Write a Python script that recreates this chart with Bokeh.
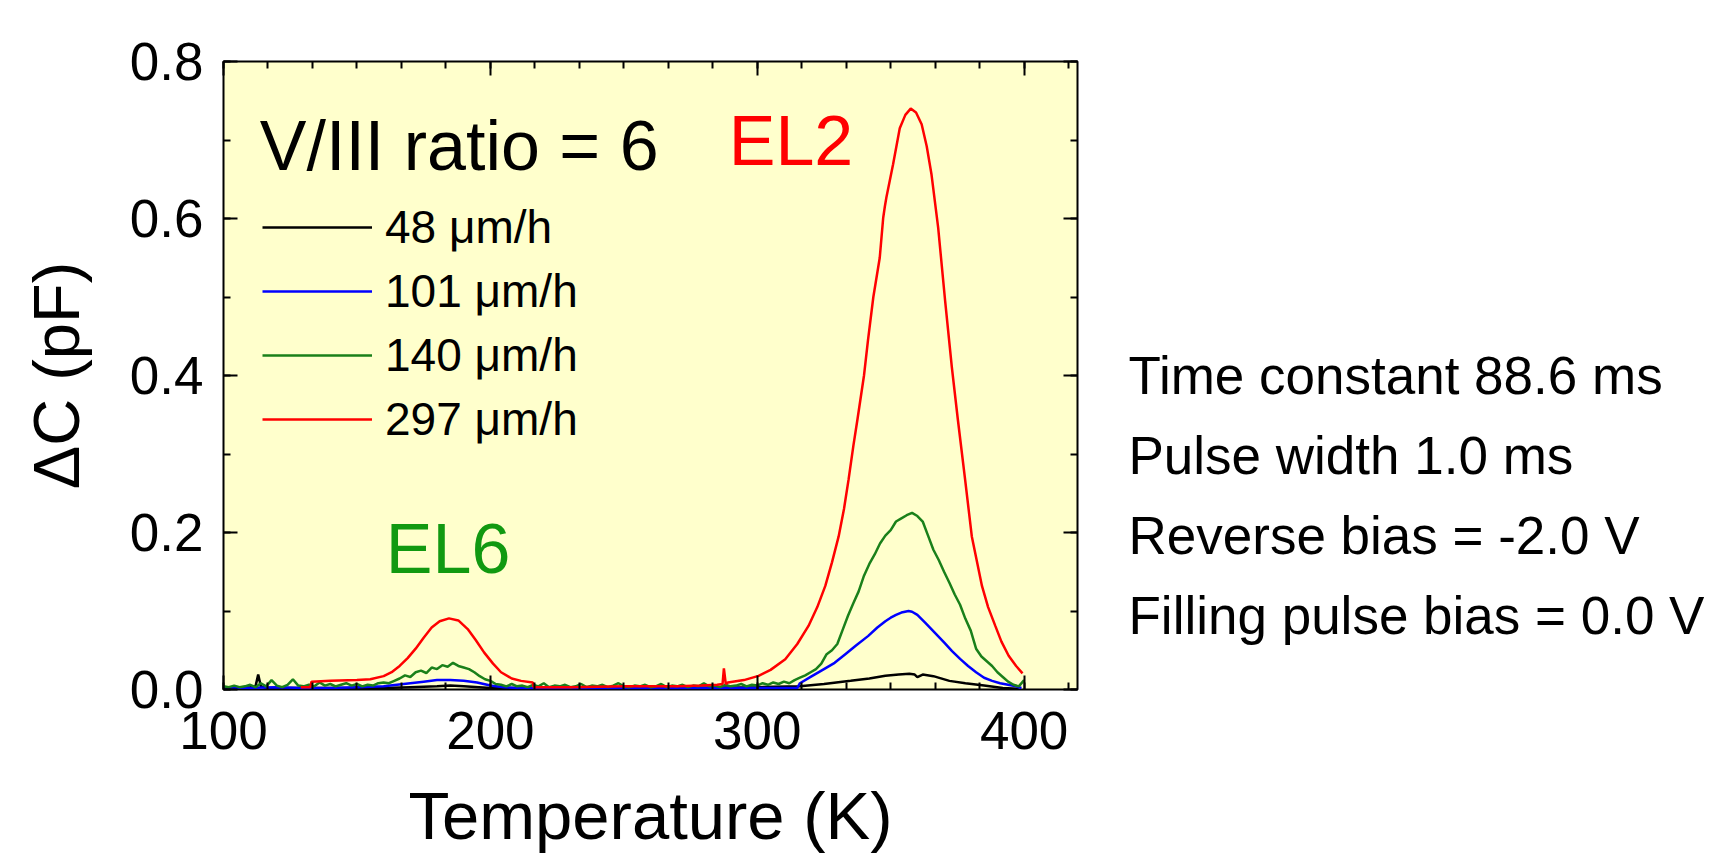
from bokeh.plotting import figure
from bokeh.layouts import row
from bokeh.models import (Range1d, LinearAxis, SingleIntervalTicker, PrintfTickFormatter,
                          Label, Legend, LegendItem)
from bokeh.embed import file_html
from bokeh.resources import INLINE

FONT = "Liberation Sans"

# ---------------- data ----------------
series_names = ["48 \u03bcm/h", "101 \u03bcm/h", "140 \u03bcm/h", "297 \u03bcm/h"]
series_colors = ["#000000", "#0000FF", "#1A801A", "#FF0000"]

t_48 = [100, 105, 110, 112, 113, 114, 116, 120, 140, 160, 170, 180, 185, 190, 200, 220, 260,
        300, 316, 325, 335, 342, 348, 353, 357, 359, 360, 362, 366, 372, 378, 385, 392, 398]
c_48 = [0.002, 0.002, 0.003, 0.004, 0.019, 0.004, 0.002, 0.002, 0.002, 0.002, 0.003, 0.004,
        0.005, 0.004, 0.002, 0.002, 0.002, 0.003, 0.004, 0.007, 0.011, 0.014, 0.0174, 0.019,
        0.020, 0.019, 0.0157, 0.019, 0.017, 0.011, 0.008, 0.005, 0.002, 0.001]

t_101 = [100, 110, 120, 130, 140, 150, 160, 165, 170, 175, 180, 185, 190, 195, 200, 205, 210,
         220, 240, 260, 280, 300, 310, 315, 316, 320, 325, 329, 333, 337, 341.5, 345, 348, 350,
         352, 354, 356.7, 358, 360, 363, 366.5, 370, 373, 376, 379, 382, 385, 388, 391, 394,
         397, 399]
c_101 = [0.003, 0.002, 0.003, 0.002, 0.002, 0.003, 0.004, 0.006, 0.008, 0.010, 0.012, 0.012,
         0.011, 0.009, 0.005, 0.003, 0.002, 0.002, 0.002, 0.002, 0.002, 0.002, 0.002, 0.002,
         0.008, 0.016, 0.026, 0.034, 0.045, 0.056, 0.068, 0.079, 0.087, 0.0915, 0.095, 0.098,
         0.0999, 0.099, 0.095, 0.085, 0.0725, 0.060, 0.049, 0.039, 0.030, 0.022, 0.015, 0.011,
         0.008, 0.006, 0.004, 0.002]

t_140 = list(range(100, 401, 2))
c_140 = [
    # 100 - 130
    0.004, 0.003, 0.005, 0.003, 0.004, 0.006, 0.003, 0.008, 0.004, 0.012, 0.005, 0.003, 0.006,
    0.013, 0.005, 0.004,
    # 132 - 160
    0.006, 0.004, 0.009, 0.005, 0.007, 0.004, 0.006, 0.008, 0.005, 0.007, 0.004, 0.006, 0.005,
    0.008, 0.009,
    # 162 - 210
    0.008, 0.011, 0.014, 0.018, 0.016, 0.022, 0.024, 0.021, 0.028, 0.026, 0.031, 0.029, 0.034,
    0.030, 0.028, 0.026, 0.022, 0.017, 0.013, 0.011, 0.007, 0.006, 0.004, 0.007, 0.004,
    # 212 - 310
    0.005, 0.003, 0.006, 0.004, 0.008, 0.003, 0.005, 0.004, 0.006, 0.003,
    0.004, 0.007, 0.003, 0.005, 0.004, 0.006, 0.003, 0.005, 0.008, 0.004,
    0.003, 0.005, 0.004, 0.006, 0.003, 0.004, 0.007, 0.003, 0.005, 0.004,
    0.006, 0.003, 0.005, 0.004, 0.008, 0.004, 0.005, 0.003, 0.006, 0.004,
    0.005, 0.007, 0.004, 0.006, 0.005, 0.008, 0.006, 0.009, 0.007, 0.010,
    # 312 - 400
    0.008, 0.012, 0.015, 0.018, 0.022, 0.026, 0.033, 0.045, 0.050, 0.058, 0.076, 0.094, 0.110,
    0.125, 0.145, 0.160, 0.172, 0.186, 0.196, 0.203, 0.214, 0.218, 0.222, 0.225, 0.221, 0.214,
    0.196, 0.178, 0.165, 0.150, 0.136, 0.121, 0.108, 0.090, 0.075, 0.052, 0.042, 0.036, 0.030,
    0.022, 0.016, 0.010, 0.006, 0.004, 0.012,
]

t_297 = [129, 132.5, 133, 140, 150, 155, 160, 163, 166, 169, 172, 175, 178, 181, 184.5, 188,
         191.5, 194.5, 197.7, 201, 204, 208, 211.5, 215.9, 216.2, 230, 250, 270, 279, 285, 287,
         287.5, 288.2, 289, 295, 300.5, 305, 310.5, 315, 319.2, 322.5, 325.5, 328, 330.5, 332.5,
         334.2, 336, 337.5, 340, 341.5, 343.5, 345.9, 347.2, 347.8, 348.4, 350.9, 353.4, 355.5,
         357.5, 359.5, 361.6, 363.5, 365.3, 367.8, 370.4, 372.9, 375.2, 377.9, 380.4, 384.2,
         386.5, 389.2, 391.5, 394.2, 397, 399.4]
c_297 = [0.003, 0.003, 0.010, 0.011, 0.012, 0.013, 0.017, 0.022, 0.030, 0.040, 0.052, 0.066,
         0.079, 0.087, 0.0906, 0.088, 0.077, 0.063, 0.047, 0.033, 0.022, 0.014, 0.011, 0.009,
         0.003, 0.003, 0.004, 0.004, 0.005, 0.006, 0.007, 0.027, 0.007, 0.009, 0.012, 0.0174,
         0.025, 0.0386, 0.058, 0.081, 0.105, 0.132, 0.162, 0.195, 0.230, 0.267, 0.31, 0.343,
         0.40, 0.445, 0.50, 0.550, 0.601, 0.615, 0.627, 0.669, 0.715, 0.732, 0.740, 0.735,
         0.720, 0.692, 0.656, 0.588, 0.495, 0.411, 0.343, 0.267, 0.195, 0.132, 0.105, 0.081,
         0.061, 0.043, 0.030, 0.0205]

info_lines = ["Time constant 88.6 ms", "Pulse width 1.0 ms",
              "Reverse bias = -2.0 V", "Filling pulse bias = 0.0 V"]

# ---------------- main figure ----------------
H = 855
W1 = 1100
W2 = 604
TOP = 61
BOTTOM = 166

p = figure(width=W1, height=H, output_backend="svg", toolbar_location=None,
           x_range=Range1d(100, 420), y_range=Range1d(0, 0.8),
           x_axis_type=None, y_axis_type=None,
           min_border_left=223, min_border_right=23, min_border_top=TOP, min_border_bottom=BOTTOM)
p.background_fill_color = "#FFFFCC"
p.border_fill_color = "white"
p.outline_line_color = "black"
p.outline_line_width = 2
p.outline_line_alpha = 1.0


def style_axis(ax, show_labels, label_size="65px"):
    ax.axis_line_color = None
    ax.major_tick_in = 14
    ax.major_tick_out = 0
    ax.minor_tick_in = 7
    ax.minor_tick_out = 0
    ax.major_tick_line_width = 2
    ax.minor_tick_line_width = 2
    ax.major_tick_line_color = "black"
    ax.minor_tick_line_color = "black"
    ax.major_label_text_font = FONT
    ax.axis_label_text_font = FONT
    ax.axis_label_text_font_style = "normal"
    ax.axis_label_text_color = "black"
    ax.major_label_text_color = "black"
    if show_labels:
        ax.major_label_text_font_size = "53px"
        ax.axis_label_text_font_size = label_size
    else:
        ax.major_label_text_font_size = "0px"
        ax.major_label_text_alpha = 0
        ax.major_label_standoff = 0


xb = LinearAxis(ticker=SingleIntervalTicker(interval=100, num_minor_ticks=6),
                formatter=PrintfTickFormatter(format="%d"), axis_label="Temperature (K)")
style_axis(xb, True, "67px")
xb.major_label_standoff = 22
xb.axis_label_standoff = 26
xb.axis_label_text_line_height = 1.0
p.add_layout(xb, "below")

yl = LinearAxis(ticker=SingleIntervalTicker(interval=0.2, num_minor_ticks=2),
                formatter=PrintfTickFormatter(format="%.1f"), axis_label="\u0394C (pF)")
style_axis(yl, True, "65px")
yl.major_label_standoff = 20
yl.axis_label_standoff = 34
p.add_layout(yl, "left")

xt = LinearAxis(ticker=SingleIntervalTicker(interval=100, num_minor_ticks=6))
style_axis(xt, False)
p.add_layout(xt, "above")

yr = LinearAxis(ticker=SingleIntervalTicker(interval=0.2, num_minor_ticks=2))
style_axis(yr, False)
p.add_layout(yr, "right")

# ---------------- curves ----------------
all_t = [t_48, t_101, t_140, t_297]
all_c = [c_48, c_101, c_140, c_297]
renderers = []
for t, c, col in zip(all_t, all_c, series_colors):
    r = p.line(t, c, line_color=col, line_width=2.5)
    renderers.append(r)

legend = Legend(items=[LegendItem(label=n, renderers=[r]) for n, r in zip(series_names, renderers)],
                location=(39, 238), orientation="vertical",
                glyph_width=110, glyph_height=64, label_height=64, label_standoff=13,
                spacing=0, padding=0, margin=0,
                border_line_color=None, background_fill_alpha=0,
                label_text_font=FONT, label_text_font_size="46px", label_text_color="black")
p.add_layout(legend)

# ---------------- annotations ----------------
p.add_layout(Label(x=113.6, y=0.6918, text="V/III ratio = 6", text_font=FONT,
                   text_font_size="70px", text_color="black", text_baseline="alphabetic"))
p.add_layout(Label(x=289.3, y=0.6985, text="EL2", text_font=FONT,
                   text_font_size="70px", text_color="#FF0000", text_baseline="alphabetic"))
p.add_layout(Label(x=160.8, y=0.1786, text="EL6", text_font=FONT,
                   text_font_size="70px", text_color="#119911", text_baseline="alphabetic"))

# ---------------- side panel with measurement conditions ----------------
q = figure(width=W2, height=H, output_backend="svg", toolbar_location=None,
           x_range=Range1d(0, W2), y_range=Range1d(BOTTOM, H - TOP),
           x_axis_type=None, y_axis_type=None,
           min_border_left=0, min_border_right=0, min_border_top=TOP, min_border_bottom=BOTTOM)
q.outline_line_color = None
q.background_fill_color = "white"
q.border_fill_color = "white"

info_anchor_px = [375, 455, 535, 615]
for txt, yy in zip(info_lines, info_anchor_px):
    q.add_layout(Label(x=28, y=H - yy, text=txt, text_font=FONT, text_font_size="53px",
                       text_color="black", text_baseline="alphabetic"))

layout = row(p, q, spacing=0)
open("out.html", "w").write(file_html(layout, INLINE))
